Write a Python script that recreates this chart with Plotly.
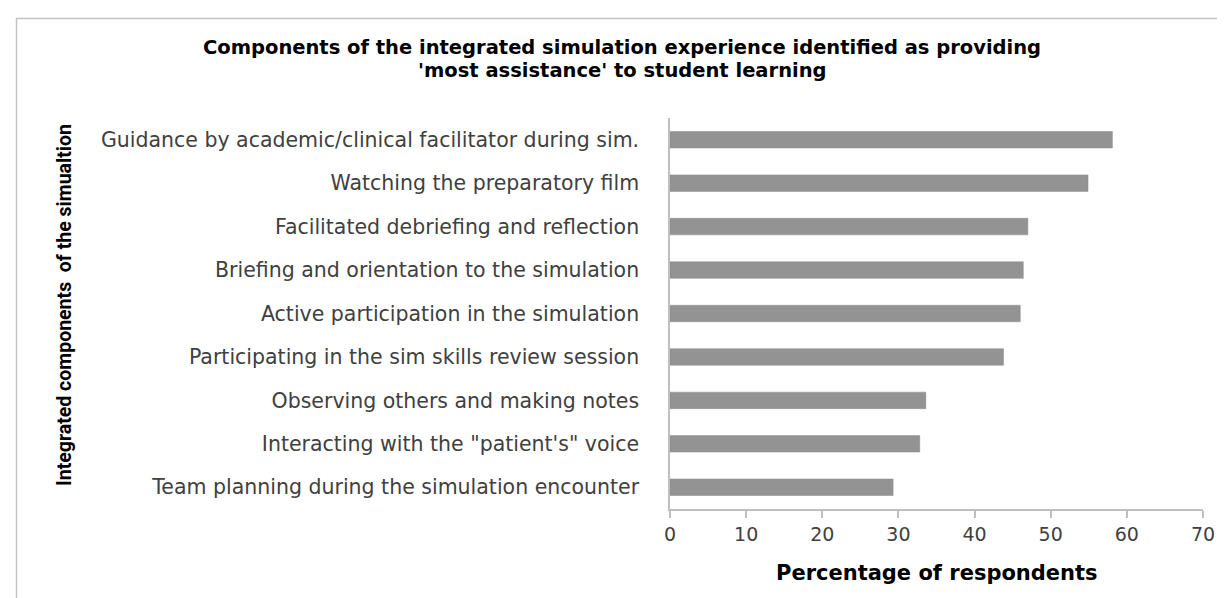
import plotly.graph_objects as go

categories = [
    "Guidance by academic/clinical facilitator during sim.",
    "Watching the preparatory film",
    "Facilitated debriefing and reflection",
    "Briefing and orientation to the simulation",
    "Active participation in the simulation",
    "Participating in the sim skills review session",
    "Observing others and making notes",
    "Interacting with the \"patient's\" voice",
    "Team planning during the simulation encounter",
]
values = [58.1, 54.9, 47.0, 46.4, 46.0, 43.8, 33.6, 32.8, 29.3]
x_ticks = [0, 10, 20, 30, 40, 50, 60, 70]

title_lines = [
    "Components of the integrated simulation experience identified as providing",
    "'most assistance' to student learning",
]
x_title = "Percentage of respondents"
y_title = "Integrated components  of the simualtion"

W, H = 1225, 598
L, R, T, B = 662, 30, 110, 97
pw = W - L - R
ph = H - T - B

def px_x(p):
    return (p - L) / pw

def px_y(p):
    return (H - B - p) / ph

fig = go.Figure(go.Bar(
    x=values, y=categories, orientation="h",
    marker=dict(color="#939393", line=dict(color="#8a8a8a", width=0.5)),
))

fig.update_layout(
    width=W, height=H,
    margin=dict(l=L, r=R, t=T, b=B),
    paper_bgcolor="white", plot_bgcolor="white",
    bargap=0.62,
    showlegend=False,
    font=dict(family="DejaVu Sans", color="#404040"),
)
fig.update_xaxes(
    range=[0, 70], tickvals=x_ticks, showgrid=False, zeroline=False,
    showline=True, linecolor="#bfbfbf", linewidth=1.5,
    ticks="outside", ticklen=7, tickcolor="#bfbfbf", tickwidth=1.5,
    tickfont=dict(family="DejaVu Sans", size=19, color="#404040"),
)
fig.update_yaxes(
    autorange="reversed", showgrid=False, zeroline=False,
    showline=True, linecolor="#bfbfbf", linewidth=1.5,
    ticks="", ticklabelstandoff=25,
    tickfont=dict(family="DejaVu Sans", size=20.5, color="#404040"),
)

# chart title (two lines, placed individually)
for txt, ypx in zip(title_lines, [39, 62]):
    fig.add_annotation(
        text=txt, xref="paper", yref="paper",
        x=px_x(614), y=px_y(ypx), xanchor="center", yanchor="middle", showarrow=False,
        font=dict(family="DejaVu Sans", size=19.5, color="#000000", weight="bold"),
    )

# x axis title
fig.add_annotation(
    text=x_title, xref="paper", yref="paper",
    x=0.5, y=px_y(565), xanchor="center", yanchor="middle", showarrow=False,
    font=dict(family="DejaVu Sans", size=21, color="#000000", weight="bold"),
)

# y axis title
fig.add_annotation(
    text=y_title, textangle=-90, xref="paper", yref="paper",
    x=px_x(56), y=px_y(297), xanchor="center", yanchor="middle", showarrow=False,
    font=dict(family="Roboto", size=19.5, color="#000000", weight="bold"),
)

# chart border (top and left visible)
fig.add_shape(
    type="rect", xref="paper", yref="paper",
    x0=px_x(8.5), x1=px_x(1240), y0=px_y(10.5), y1=px_y(610),
    line=dict(color="#c4c4c4", width=1.5), fillcolor="rgba(0,0,0,0)", layer="below",
)

fig.write_html("out.html")
